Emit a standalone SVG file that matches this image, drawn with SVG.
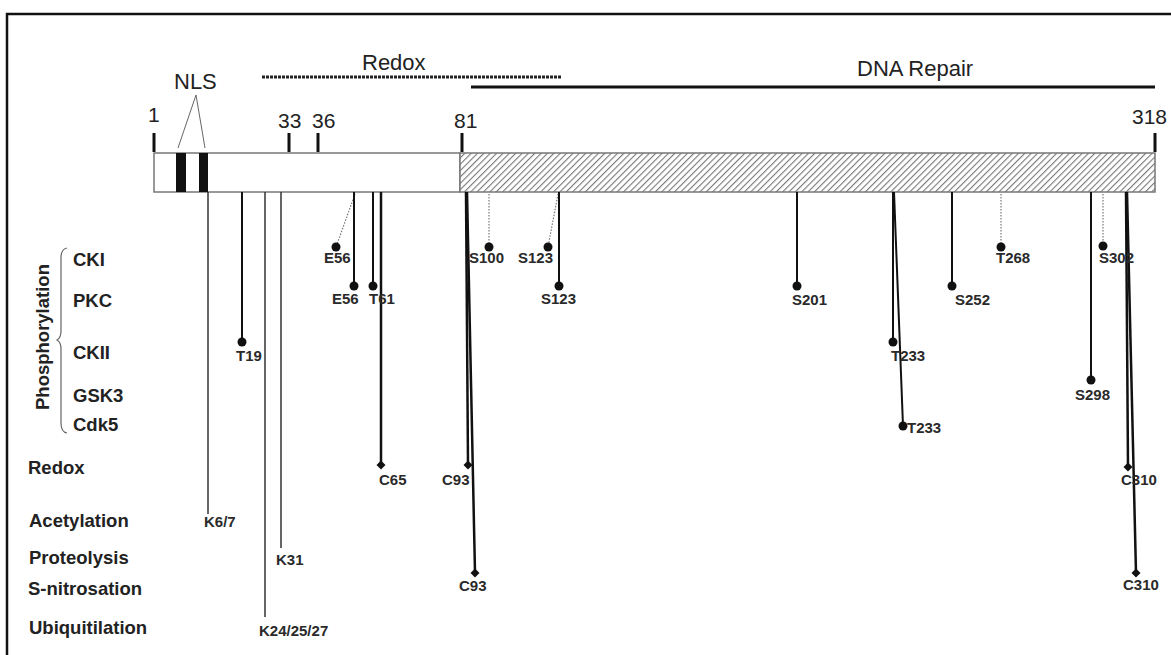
<svg xmlns="http://www.w3.org/2000/svg" width="1171" height="655" viewBox="0 0 1171 655">
<style>
.top{font-family:"Liberation Sans",Arial,sans-serif;font-size:22px;fill:#222}
.num{font-family:"Liberation Sans",Arial,sans-serif;font-size:21px;fill:#222}
.cat{font-family:"Liberation Sans",Arial,sans-serif;font-size:18.5px;font-weight:bold;fill:#222}
.res{font-family:"Liberation Sans",Arial,sans-serif;font-size:15px;font-weight:bold;fill:#2a2a2a}
.stem{stroke:#111;stroke-width:2;fill:none}
.thick{stroke:#111;stroke-width:2.5;fill:none}
.thin{stroke:#333;stroke-width:1.5;fill:none}
.dot{stroke:#777;stroke-width:1.2;stroke-dasharray:1.5 1.5;fill:none}
.tick{stroke:#111;stroke-width:3}
.ball{fill:#111}
</style>
<defs>
<pattern id="hatch" patternUnits="userSpaceOnUse" width="4.5" height="4.5" patternTransform="rotate(45)">
<rect width="4.5" height="4.5" fill="#fff"/>
<line x1="0" y1="0" x2="0" y2="4.5" stroke="#777" stroke-width="2.2"/>
</pattern>
</defs>
<rect x="0" y="0" width="1171" height="655" fill="#fff"/>
<rect x="7" y="14" width="1200" height="700" fill="none" stroke="#111" stroke-width="2.5"/>

<g id="domains">
<text class="top" x="362" y="70">Redox</text>
<line x1="262" y1="77" x2="561" y2="77" stroke="#222" stroke-width="3" stroke-dasharray="3 1"/>
<text class="top" x="857" y="76">DNA Repair</text>
<line x1="471" y1="87" x2="1155" y2="87" stroke="#111" stroke-width="3"/>
<text class="top" x="174" y="89">NLS</text>
<polyline points="178,148 196,95 205,148" fill="none" stroke="#666" stroke-width="1"/>
</g>

<g id="ruler">
<text class="num" x="148" y="122">1</text>
<text class="num" x="278" y="128">33</text>
<text class="num" x="312" y="128">36</text>
<text class="num" x="454" y="128">81</text>
<text class="num" x="1132" y="124">318</text>
<line class="tick" x1="154" y1="133" x2="154" y2="152"/>
<line class="tick" x1="289" y1="133" x2="289" y2="152"/>
<line class="tick" x1="318" y1="133" x2="318" y2="152"/>
<line class="tick" x1="462" y1="133" x2="462" y2="152"/>
<line class="tick" x1="1155" y1="133" x2="1155" y2="152"/>
</g>

<g id="protein">
<rect x="154" y="153" width="306" height="39" fill="#fff" stroke="#777" stroke-width="1.5"/>
<rect x="460" y="153" width="695" height="39" fill="url(#hatch)" stroke="#777" stroke-width="1.5"/>
<rect x="176" y="153" width="10" height="39" fill="#111"/>
<rect x="199" y="153" width="9" height="39" fill="#111"/>
</g>

<g id="categories">
<text class="cat" transform="translate(49,410) rotate(-90)">Phosphorylation</text>
<path d="M67,248 Q61,249 61,258 L61,331 Q61,338 57,340 Q61,342 61,349 L61,423 Q61,432 67,433" fill="none" stroke="#666" stroke-width="1.2"/>
<text class="cat" x="73" y="266">CKI</text>
<text class="cat" x="73" y="307">PKC</text>
<text class="cat" x="73" y="359">CKII</text>
<text class="cat" x="73" y="402">GSK3</text>
<text class="cat" x="73" y="431">Cdk5</text>
<text class="cat" x="28" y="474">Redox</text>
<text class="cat" x="29" y="527">Acetylation</text>
<text class="cat" x="29" y="564">Proteolysis</text>
<text class="cat" x="28" y="595">S-nitrosation</text>
<text class="cat" x="29" y="634">Ubiquitilation</text>
</g>

<g id="connectors">
<line class="thin" x1="208" y1="192" x2="208" y2="514"/>
<line class="stem" x1="242" y1="192" x2="242" y2="342"/>
<line class="thin" x1="265" y1="192" x2="265" y2="617"/>
<line class="thin" x1="281" y1="192" x2="281" y2="548"/>
<line class="dot" x1="355" y1="194" x2="336" y2="247"/>
<line class="stem" x1="354" y1="192" x2="354" y2="286"/>
<line class="stem" x1="373" y1="192" x2="373" y2="286"/>
<line class="thick" x1="381" y1="192" x2="381" y2="465"/>
<line class="thick" x1="466" y1="192" x2="468" y2="465"/>
<line class="thick" x1="467" y1="192" x2="475" y2="573"/>
<line class="dot" x1="489" y1="194" x2="489" y2="247"/>
<line class="dot" x1="558" y1="194" x2="548" y2="247"/>
<line class="stem" x1="559" y1="192" x2="559" y2="286"/>
<line class="stem" x1="797" y1="192" x2="797" y2="286"/>
<line class="stem" x1="893" y1="192" x2="893" y2="342"/>
<line class="stem" x1="894" y1="192" x2="903" y2="426"/>
<line class="stem" x1="952" y1="192" x2="952" y2="286"/>
<line class="dot" x1="1001" y1="194" x2="1001" y2="247"/>
<line class="stem" x1="1091" y1="192" x2="1091" y2="380"/>
<line class="dot" x1="1103" y1="194" x2="1103" y2="246"/>
<line class="thick" x1="1126" y1="192" x2="1128" y2="467"/>
<line class="thick" x1="1127" y1="192" x2="1136" y2="573"/>
</g>

<g id="site-K6-7"><text class="res" x="204" y="527">K6/7</text></g>
<g id="site-T19"><circle class="ball" cx="242" cy="342" r="4.5"/><text class="res" x="236" y="361">T19</text></g>
<g id="site-K24"><text class="res" x="259" y="636">K24/25/27</text></g>
<g id="site-K31"><text class="res" x="276" y="565">K31</text></g>
<g id="site-E56-CKI"><circle class="ball" cx="336" cy="247" r="4.5"/><text class="res" x="324" y="263">E56</text></g>
<g id="site-E56-PKC"><circle class="ball" cx="354" cy="286" r="4.5"/><text class="res" x="332" y="304">E56</text></g>
<g id="site-T61"><circle class="ball" cx="373" cy="286" r="4.5"/><text class="res" x="369" y="304">T61</text></g>
<g id="site-C65"><path class="ball" d="M381,460.5 L385.5,465 L381,469.5 L376.5,465 Z"/><text class="res" x="379" y="485">C65</text></g>
<g id="site-C93-redox"><path class="ball" d="M468,460.5 L472.5,465 L468,469.5 L463.5,465 Z"/><text class="res" x="442" y="485">C93</text></g>
<g id="site-C93-sno"><path class="ball" d="M475,568.5 L479.5,573 L475,577.5 L470.5,573 Z"/><text class="res" x="459" y="591">C93</text></g>
<g id="site-S100"><circle class="ball" cx="489" cy="247" r="4.5"/><text class="res" x="469" y="263">S100</text></g>
<g id="site-S123-CKI"><circle class="ball" cx="548" cy="247" r="4.5"/><text class="res" x="518" y="263">S123</text></g>
<g id="site-S123-PKC"><circle class="ball" cx="559" cy="286" r="4.5"/><text class="res" x="541" y="304">S123</text></g>
<g id="site-S201"><circle class="ball" cx="797" cy="286" r="4.5"/><text class="res" x="792" y="305">S201</text></g>
<g id="site-T233-CKII"><circle class="ball" cx="893" cy="342" r="4.5"/><text class="res" x="891" y="361">T233</text></g>
<g id="site-T233-Cdk5"><circle class="ball" cx="903" cy="426" r="4.5"/><text class="res" x="907" y="433">T233</text></g>
<g id="site-S252"><circle class="ball" cx="952" cy="286" r="4.5"/><text class="res" x="955" y="305">S252</text></g>
<g id="site-T268"><circle class="ball" cx="1001" cy="247" r="4.5"/><text class="res" x="996" y="263">T268</text></g>
<g id="site-S298"><circle class="ball" cx="1091" cy="380" r="4.5"/><text class="res" x="1075" y="400">S298</text></g>
<g id="site-S302"><circle class="ball" cx="1103" cy="246" r="4.5"/><text class="res" x="1099" y="263">S302</text></g>
<g id="site-C310-redox"><path class="ball" d="M1128,462.5 L1132.5,467 L1128,471.5 L1123.5,467 Z"/><text class="res" x="1121" y="485">C310</text></g>
<g id="site-C310-sno"><path class="ball" d="M1136,568.5 L1140.5,573 L1136,577.5 L1131.5,573 Z"/><text class="res" x="1123" y="590">C310</text></g>
</svg>
